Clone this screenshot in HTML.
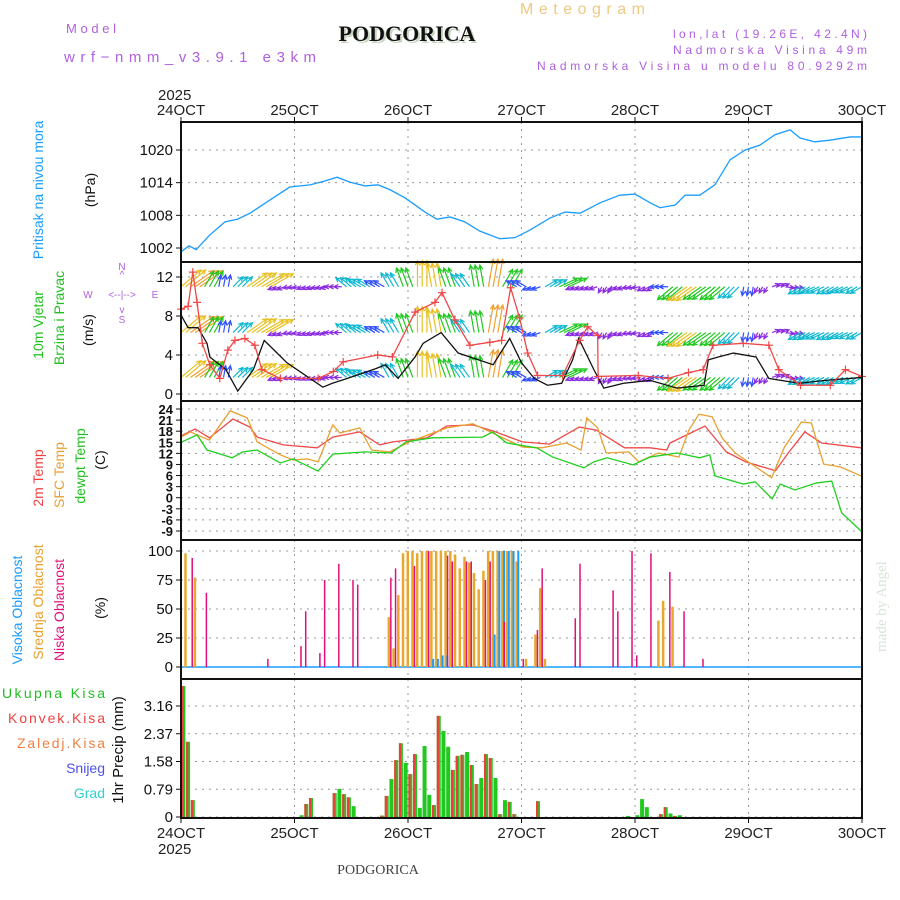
<!DOCTYPE html>
<html><head><meta charset="utf-8"><style>
html,body{margin:0;padding:0;background:#fff;}
svg{display:block;font-family:"Liberation Sans",sans-serif;}
</style></head><body>
<svg id="chart" width="900" height="900" viewBox="0 0 900 900" xmlns="http://www.w3.org/2000/svg">
<rect width="900" height="900" fill="#fff"/>
<text x="66" y="33" font-size="13" fill="#b060e0" textLength="50" lengthAdjust="spacing">Model</text>
<text x="64" y="62" font-size="15" fill="#b060e0" textLength="252" lengthAdjust="spacing">wrf−nmm_v3.9.1 e3km</text>
<text x="409" y="43" font-size="22" font-weight="bold" font-family="Liberation Serif,serif" fill="#c8d8c0" text-anchor="middle">PODGORICA</text>
<text x="407" y="41" font-size="22" font-weight="bold" font-family="Liberation Serif,serif" fill="#111" text-anchor="middle">PODGORICA</text>
<text x="520" y="14" font-size="16" fill="#f0c880" textLength="125" lengthAdjust="spacing">Meteogram</text>
<text x="673" y="38" font-size="12" fill="#b060e0" textLength="194" lengthAdjust="spacing">lon,lat (19.26E, 42.4N)</text>
<text x="673" y="54" font-size="12" fill="#b060e0" textLength="194" lengthAdjust="spacing">Nadmorska Visina 49m</text>
<text x="537" y="70" font-size="12" fill="#b060e0" textLength="330" lengthAdjust="spacing">Nadmorska Visina u modelu 80.9292m</text>
<text x="158" y="100" font-size="15" fill="#222">2025</text>
<text x="158" y="854" font-size="15" fill="#222">2025</text>
<text x="378" y="874" font-size="14" font-family="Liberation Serif,serif" fill="#444" text-anchor="middle">PODGORICA</text>
<text transform="translate(886,652) rotate(-90)" font-size="15" font-family="Liberation Serif,serif" fill="#d8e4d8">made by Angel</text>
<text transform="translate(43,190) rotate(-90)" font-size="14" fill="#1a9cff" text-anchor="middle">Pritisak na nivou mora</text>
<text transform="translate(95,190) rotate(-90)" font-size="14" fill="#111" text-anchor="middle">(hPa)</text>
<text transform="translate(43,325) rotate(-90)" font-size="14" fill="#20c020" text-anchor="middle">10m Vjetar</text>
<text transform="translate(64,318) rotate(-90)" font-size="14" fill="#20c020" text-anchor="middle">Brzina i Pravac</text>
<text transform="translate(93,330) rotate(-90)" font-size="14" fill="#111" text-anchor="middle">(m/s)</text>
<g fill="#b060e0" font-size="10" text-anchor="middle">
<text x="122" y="270">N</text><text x="122" y="278">^</text><text x="88" y="298">W</text><text x="122" y="298">&lt;--|--&gt;</text><text x="155" y="298">E</text><text x="122" y="313">v</text><text x="122" y="323">S</text></g>
<text transform="translate(43,478) rotate(-90)" font-size="14" fill="#f04040" text-anchor="middle">2m Temp</text>
<text transform="translate(64,475) rotate(-90)" font-size="14" fill="#e8a030" text-anchor="middle">SFC Temp</text>
<text transform="translate(85,466) rotate(-90)" font-size="14" fill="#20c020" text-anchor="middle">dewpt Temp</text>
<text transform="translate(105,460) rotate(-90)" font-size="14" fill="#111" text-anchor="middle">(C)</text>
<text transform="translate(22,610) rotate(-90)" font-size="14" fill="#1a9cff" text-anchor="middle">Visoka Oblacnost</text>
<text transform="translate(43,602) rotate(-90)" font-size="14" fill="#e8a030" text-anchor="middle">Srednja Oblacnost</text>
<text transform="translate(64,610) rotate(-90)" font-size="14" fill="#e0107a" text-anchor="middle">Niska Oblacnost</text>
<text transform="translate(105,608) rotate(-90)" font-size="14" fill="#111" text-anchor="middle">(%)</text>
<text transform="translate(123,750) rotate(-90)" font-size="15" fill="#111" text-anchor="middle">1hr Precip (mm)</text>
<g font-size="14" text-anchor="end">
<text x="105" y="698" fill="#20c020" textLength="103" lengthAdjust="spacing">Ukupna Kisa</text>
<text x="105" y="723" fill="#f04040" textLength="97" lengthAdjust="spacing">Konvek.Kisa</text>
<text x="105" y="748" fill="#f08040" textLength="88" lengthAdjust="spacing">Zaledj.Kisa</text>
<text x="105" y="773" fill="#5050f0">Snijeg</text>
<text x="105" y="798" fill="#30d0d0">Grad</text>
</g>
<g id="plot"></g>
</svg>
<script>
// ---- data ----
const dayLabels = ["24OCT","25OCT","26OCT","27OCT","28OCT","29OCT","30OCT"];
const pressHours = [0,1.7,3.2,6.1,9.3,12,14.6,18.8,23,27.3,30.4,33,35.7,38.9,41.7,44.2,47.4,51.6,54.1,56.9,60,63.2,67.4,70.6,73.8,78,81.2,84.4,88.6,92.8,96,99.2,101.3,104.5,106.6,109.7,112.9,116.1,119.3,122.4,125.6,128.8,130.9,134,137.2,141.5,144];
const pressVals = [1001.3,1002.4,1001.7,1004.4,1006.8,1007.3,1008.4,1010.8,1013.2,1013.6,1014.3,1015.0,1014.1,1013.4,1013.6,1012.7,1011.2,1008.6,1007.3,1007.7,1006.8,1005.1,1003.7,1003.9,1005.3,1007.5,1008.6,1008.4,1010.3,1011.7,1011.9,1010.3,1009.4,1009.9,1011.7,1011.7,1013.6,1018.2,1020,1020.9,1022.8,1023.7,1022.2,1021.5,1021.8,1022.4,1022.4];
const pressTicks = [1002,1008,1014,1020];

const spdHours = [0,1.5,3.6,5.5,6.1,9.5,12,15.3,17.6,19.7,22.4,30,32,35.2,41.2,43.2,45.9,49.5,51.2,55,58.6,66,69.5,72,74.7,77.5,80.5,82.8,84.1,87.3,89.4,93.6,99.2,104.9,110.6,111.5,113.6,116.8,121.6,124.3,130.7,136.3,144];
const spdVals = [8.1,6.8,6.8,5.2,3.8,2.5,0.3,2.5,5.5,4.5,3.2,0.7,1.1,1.6,2.6,3.0,1.6,3.8,5.2,6.3,4.2,3.0,5.7,3.2,1.6,0.9,1.1,3.5,5.7,2.5,0.6,1.1,1.4,0.6,0.9,3.5,3.8,4.2,3.8,1.6,1.1,1.4,1.7];
const gustHours = [0,1.5,2.5,3.4,4.5,6.1,8.2,9.9,11.4,13.5,15.6,17.1,21,29,32.2,34.3,41.6,44.7,49.5,53.7,55.2,57.9,61.1,65.3,67.8,69.7,71.6,73.3,75.4,80.7,84.3,86,88.1,88.2,96.7,103,107.3,110.4,112.5,118.9,124.3,126.4,131,137.3,140.5,144];
const gustVals = [8.7,9.0,12.5,9.4,5.2,3.0,1.6,4.5,5.5,5.7,5.0,2.5,1.6,1.6,2.3,3.3,4.0,3.8,8.4,9.4,10.4,7.6,5.0,5.3,5.5,10.9,7.8,4.2,1.9,1.9,5.5,6.9,6.0,1.8,1.9,1.6,2.2,2.5,5.0,5.2,5.0,2.5,0.9,0.9,2.5,1.8];
const windLevels = [11,6.3,1.7];
const windHours = [0,3,6,9,12,15,18,21,24,27,30,33,36,39,42,45,48,51,54,57,60,63,66,69,72,75,78,81,84,87,90,93,96,99,102,105,108,111,114,117,120,123,126,129,132,135,138,141,144];
const windDir = [40,35,60,80,45,35,30,200,190,200,195,180,140,150,150,120,110,90,100,110,125,100,80,60,150,200,30,25,200,200,240,200,190,210,180,220,215,215,220,225,260,240,20,350,210,205,210,205,210];
const windLen = [26,28,18,12,14,24,26,8,7,7,7,8,14,15,12,16,20,26,24,20,16,22,28,20,12,9,14,20,8,8,7,8,8,8,9,20,24,22,20,16,9,7,8,8,14,15,14,14,13];
const speedTicks = [0,4,8,12];

const tHours = [0,3,6,11,14.6,16.1,21.6,28.8,32.1,37.8,42,44.8,52,56.2,61.7,65.9,72.2,77.9,84.2,87.8,93.8,99.2,102.7,103.4,110.8,115.3,119.4,125.7,128.4,131.9,135.5,143.8];
const t2mVals = [16.7,18.6,16.2,21.3,19.1,16.4,14.3,13.5,16.4,17.8,14.3,15.1,16.2,19.4,19.7,18.1,15.1,14.5,19.1,18.3,13.5,13.5,12.9,14.8,19.4,12.4,9.7,7.3,12.1,17.8,14.8,13.5];
const sfcHours = [0,2,6,10.4,14,16.1,21,23.7,26.7,29,32.1,33.6,37.8,40.3,44.1,48.3,56.2,61.7,65.9,72.2,76.3,81.5,84.6,85.8,88.1,89.9,94.7,96.8,100.9,105.3,107.4,109.5,112.3,114.4,117.2,124.9,127.6,131.2,133.3,135.9,139.5,143.8];
const sfcVals = [16.4,17.8,15.6,23.5,21.6,15.1,11.6,10.2,10.5,9.7,19.7,17.5,18.9,12.9,12.4,15.1,18.9,20.0,17.5,13.7,13.5,14.8,12.9,21.6,18.9,12.1,12.4,9.7,12.1,11.0,18.3,22.6,21.9,16.2,12.1,5.4,13.7,20.5,20.2,9.1,8.3,5.9];
const dewHours = [0.2,3.4,5.5,7.6,10.8,13.1,16.1,21,23.7,29,32.1,38.9,44.4,47.6,53.1,63.8,65.9,68.9,75.2,78.6,85.2,87.3,90.1,95.6,99.2,104.9,109.7,111.8,112.9,118.9,121.4,125,126.7,129.8,134.4,137.6,139.7,143.8];
const dewVals = [15.1,17.0,12.9,12.1,10.8,12.4,12.9,9.4,10.5,7.2,11.8,12.4,12.1,15.1,16.2,16.4,17.8,14.8,13.5,11.0,8.1,9.7,10.8,8.9,11.0,12.1,10.8,11.6,5.9,3.7,4.3,-0.3,3.7,2.1,4.0,4.5,-4.1,-9];
const tempTicks = [-9,-6,-3,0,3,6,9,12,15,18,21,24];

const midHours = [1,3,44,45,46,47,48,49,50,51,52,53,54,55,56,57,58,59,60,61,62,63,64,65,66,67,68,69,70,71,73,75,76,77,101,102,104];
const midVals = [98,77,43,16,62,98,100,100,98,100,100,100,100,100,100,100,97,85,95,90,81,67,83,100,100,100,100,100,100,91,7,28,68,7,40,57,52];
const lowHours = [2,5,18,25,26,29,30,33,36,37,44,45,49,52,56,57,60,61,64,65,68,72,75,76,83,84,91,92,95,96,99,103,106,110];
const lowVals = [94,64,7,18,48,12,75,89,75,71,77,85,87,100,96,91,91,91,75,91,39,7,32,85,42,89,66,48,100,10,98,82,48,7];
const highHours = [53,54,55,56,66,67,68,69,70,71];
const highVals = [7,7,10,10,28,100,100,100,100,100];
const cloudTicks = [0,25,50,75,100];

const rainHours = [0.5,1.5,2.5,25.5,26.5,27.5,32.5,33.5,34.5,35.5,36.5,42.5,43.5,44.5,45.5,46.5,47.5,48.5,49.5,50.5,51.5,52.5,53.5,54.5,55.5,56.5,57.5,58.5,59.5,60.5,61.5,62.5,63.5,64.5,65.5,66.5,67.5,68.5,69.5,70.5,75.5,94.5,96.5,97.5,98.5,101.5,102.5,103.5,104.5,105.5];
const rainTotal = [3.73,2.14,0.48,0.05,0.37,0.54,0.68,0.8,0.65,0.56,0.31,0.04,0.6,1.08,1.62,2.1,1.54,1.22,1.79,0.26,2.02,0.63,0.34,2.88,2.45,2.0,1.34,1.74,1.77,1.85,1.48,0.94,1.11,1.79,1.68,1.11,0.08,0.48,0.43,0.08,0.45,0.03,0.05,0.51,0.28,0.08,0.28,0.1,0.03,0.05];
const rainConv = [3.73,2.14,0.48,0,0.37,0.54,0.68,0,0.65,0.56,0,0.04,0.6,0,1.62,2.1,0,1.22,1.79,0,0,0,0.34,2.88,0,0,1.34,1.74,1.77,0,1.48,0.94,0,1.79,1.68,0,0.08,0,0.43,0.08,0.45,0,0,0,0,0.08,0.28,0,0.03,0];
const rainTicks = [0,0.79,1.58,2.37,3.16];
const rainTickLabels = ["0","0.79","1.58","2.37","3.16"];

// ---- axes ----
const NS="http://www.w3.org/2000/svg";
const X0=181, X1=862;
const xS=h=>X0+(X1-X0)*h/144;
const lin=(v0,y0,v1,y1)=>v=>y0+(v-v0)*(y1-y0)/(v1-v0);
const yP=lin(1002,248,1020,150);
const yW=lin(0,394,12,277);
const yT=lin(24,409,-9,531);
const yC=lin(0,667,100,551);
const yR=lin(0,817,3.16,706);
const plot=document.getElementById('plot');
function mk(tag,attrs,parent){const e=document.createElementNS(NS,tag);for(const k in attrs)e.setAttribute(k,attrs[k]);(parent||plot).appendChild(e);return e;}
const panels=[[122,262],[262,401],[401,540],[540,679],[679,818]];
const panelNames=['pressure-panel','wind-panel','temperature-panel','cloud-panel','precip-panel'];

function grid(top,bot,ticks,yf,labels,fs,name){
  const g=mk('g',{});
  
  
  for(let d=1;d<6;d++){const l=mk('line',{x1:xS(d*24),x2:xS(d*24),y1:top,y2:bot,stroke:'#999','stroke-dasharray':'2,5','stroke-width':1},g);
    
    }
  ticks.forEach((t,i)=>{const y=yf(t);
    const l=mk('line',{x1:X0,x2:X1,y1:y,y2:y,stroke:'#999','stroke-dasharray':'2,5','stroke-width':1},g);
    
    
    mk('line',{x1:X0-5,x2:X0,y1:y,y2:y,stroke:'#111'},g);
    const tx=mk('text',{x:X0-8,y:y+5,'font-size':fs,'text-anchor':'end',fill:'#111','font-weight':fs<15?'bold':'normal'},g);
    
    
    tx.textContent=labels?labels[i]:t;});
}
function line(hs,vs,yf,color,name,w){
  const p=mk('polyline',{points:hs.map((h,i)=>xS(h)+','+yf(vs[i])).join(' '),fill:'none',stroke:color,'stroke-width':w||1.3});
  
  
  return p;
}
grid(122,262,pressTicks,yP,null,15,'pressure');
grid(262,401,speedTicks,yW,null,15,'wind');
grid(401,540,tempTicks,yT,null,13,'temperature');
grid(540,679,cloudTicks,yC,null,15,'cloud');
grid(679,818,rainTicks,yR,rainTickLabels,15,'precip');

line(pressHours,pressVals,yP,'#1a9cff','pressure-line');

function wcol(l){return l<8.5?'#8a2be2':l<12.5?'#3050ff':l<16.5?'#10b8d0':l<22.5?'#20c820':l<26.5?'#e8c020':'#f0a030';}
windLevels.forEach((lv,li)=>{
  const g=mk('g',{});
  
  
  windHours.forEach((h,i)=>{
    const a=windDir[i]*Math.PI/180, L=windLen[i], c=wcol(L);
    [-1,0,1].forEach(o=>{
      if(h+o<0||h+o>144) return;
      const x=xS(h+o), y=yW(lv);
      const x2=x+L*Math.cos(a), y2=y-L*Math.sin(a);
      const ar=mk('path',{d:`M${x},${y}L${x2},${y2}M${x2-5*Math.cos(a-0.45)},${y2+5*Math.sin(a-0.45)}L${x2},${y2}L${x2-5*Math.cos(a+0.45)},${y2+5*Math.sin(a+0.45)}`,stroke:c,'stroke-width':1.2,fill:'none'},g);
      
      
    });
  });
});
line(spdHours,spdVals,yW,'#111','wind-speed-line',1.3);
line(gustHours,gustVals,yW,'#f04848','wind-gust-line',1.3);
gustHours.forEach((h,i)=>{
  const x=xS(h),y=yW(gustVals[i]);
  const m=mk('path',{d:`M${x-4},${y}H${x+4}M${x},${y-4}V${y+4}`,stroke:'#f04848','stroke-width':1.2});
  
  
});

line(tHours,t2mVals,yT,'#f04848','temp-2m-line');
line(sfcHours,sfcVals,yT,'#e8a030','temp-sfc-line');
line(dewHours,dewVals,yT,'#20d020','dewpoint-line');

const cb=mk('line',{x1:X0,x2:X1,y1:yC(0),y2:yC(0),stroke:'#1a9cff','stroke-width':1.5});


midHours.forEach((h,i)=>{const y=yC(midVals[i]);
  const r=mk('rect',{x:xS(h)-1.5,y:y,width:2.5,height:yC(0)-y,fill:'#e8a830'});
  
  });
highHours.forEach((h,i)=>{const y=yC(highVals[i]);
  const r=mk('rect',{x:xS(h)+0.5,y:y,width:2,height:yC(0)-y,fill:'#1a9cff'});
  
  });
lowHours.forEach((h,i)=>{const y=yC(lowVals[i]);
  const r=mk('rect',{x:xS(h)+1,y:y,width:1.5,height:yC(0)-y,fill:'#e0107a'});
  
  });

rainHours.forEach((h,i)=>{const x=xS(h);
  const y=yR(rainTotal[i]);
  const r=mk('rect',{x:x-2,y:y,width:4,height:yR(0)-y,fill:'#20c820'});
  
  
  if(rainConv[i]>0){const yc=yR(rainConv[i]);
    const c=mk('rect',{x:x-2,y:yc,width:2.2,height:yR(0)-yc,fill:'#f03c3c'});
    
    }
});

panels.forEach((p,i)=>{const r=mk('rect',{x:X0,y:p[0],width:X1-X0,height:p[1]-p[0],fill:'none',stroke:'#111','stroke-width':2});
  
  });
dayLabels.forEach((d,i)=>{const x=xS(i*24);
  mk('line',{x1:x,x2:x,y1:117,y2:122,stroke:'#111'});
  mk('line',{x1:x,x2:x,y1:818,y2:823,stroke:'#111'});
  const t1=mk('text',{x:x,y:115,'font-size':15,'text-anchor':'middle',fill:'#222'});
  
  
  t1.textContent=d;
  const t2=mk('text',{x:x,y:838,'font-size':15,'text-anchor':'middle',fill:'#222'});
  
  
  t2.textContent=d;});
</script>
</body></html>
